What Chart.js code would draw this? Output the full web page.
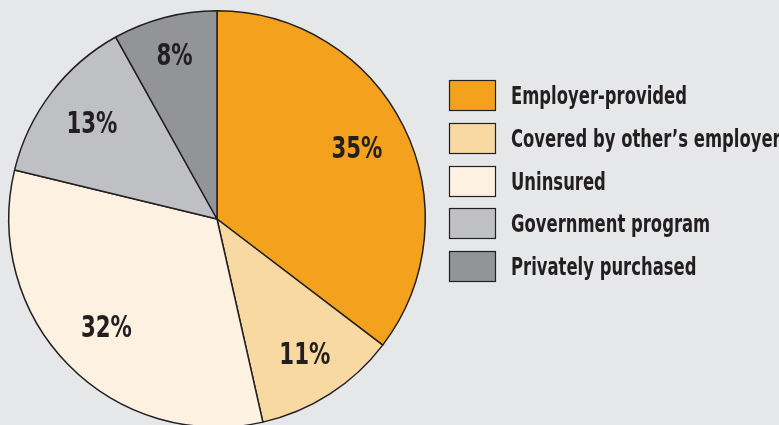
<!DOCTYPE html>
<html>
<head>
<meta charset="utf-8">
<script src="https://cdn.jsdelivr.net/npm/chart.js@4/dist/chart.umd.min.js"></script>
<style>
  html, body { margin: 0; padding: 0; background: #e6e7e9; overflow: hidden; }
  #wrap { width: 779px; height: 440px; }
</style>
</head>
<body>
<div id="wrap"><canvas id="pie" width="779" height="440"></canvas></div>
<script>
// Health coverage sources (percent)
const categories = [
  "Employer-provided",
  "Covered by other\u2019s employer",
  "Uninsured",
  "Government program",
  "Privately purchased",
];
const shares = [35, 11, 32, 13, 8];
const sliceColors = ["#f4a21e", "#f9d9a2", "#fdf2e2", "#bfc0c3", "#929497"];

// How far out along each slice the percent label sits (fraction of radius)
const LABEL_RADIUS = [0.75, 0.78, 0.745, 0.755, 0.81];

const FONT = "'DejaVu Sans Condensed', 'Liberation Sans Narrow', sans-serif";
const INK = "#231f20";

// Squeeze text horizontally so it reads like a narrow display face
function squeezedText(ctx, text, x, y, sx) {
  ctx.save();
  ctx.translate(x, y);
  ctx.scale(sx, 1);
  ctx.fillText(text, 0, 0);
  ctx.restore();
}

// Percent labels inside the slices
const sliceLabels = {
  id: "sliceLabels",
  afterDatasetsDraw(chart) {
    const ctx = chart.ctx;
    const meta = chart.getDatasetMeta(0);
    const values = chart.data.datasets[0].data;
    ctx.save();
    ctx.fillStyle = INK;
    ctx.font = "bold 30px " + FONT;
    ctx.textAlign = "center";
    ctx.textBaseline = "middle";
    const sx = 51 / ctx.measureText("35%").width;
    meta.data.forEach((arc, i) => {
      const p = arc.getProps(["x", "y", "startAngle", "endAngle", "outerRadius"], true);
      const mid = (p.startAngle + p.endAngle) / 2;
      const r = p.outerRadius * LABEL_RADIUS[i];
      squeezedText(ctx, values[i] + "%", p.x + Math.cos(mid) * r, p.y + Math.sin(mid) * r + 1, sx);
    });
    ctx.restore();
  },
};

// Legend drawn to the right of the pie
const sideLegend = {
  id: "sideLegend",
  afterDraw(chart) {
    const ctx = chart.ctx;
    const colors = chart.data.datasets[0].backgroundColor;
    const left = 449, top = 80, step = 42.75;
    ctx.save();
    ctx.font = "bold 25px " + FONT;
    ctx.textBaseline = "middle";
    const sx = 176 / ctx.measureText(chart.data.labels[0]).width;
    chart.data.labels.forEach((label, i) => {
      const y = Math.round(top + i * step);
      ctx.fillStyle = colors[i];
      ctx.fillRect(left, y, 47, 31);
      ctx.strokeStyle = INK;
      ctx.lineWidth = 1.2;
      ctx.strokeRect(left + 0.5, y + 0.5, 46, 30);
      ctx.fillStyle = INK;
      squeezedText(ctx, label, 511, y + 17, sx);
    });
    ctx.restore();
  },
};

new Chart(document.getElementById("pie"), {
  type: "pie",
  data: {
    labels: categories,
    datasets: [
      {
        data: shares,
        backgroundColor: sliceColors,
        borderColor: INK,
        borderWidth: 1.5,
      },
    ],
  },
  options: {
    responsive: false,
    animation: false,
    layout: { padding: { top: 10, left: 8, right: 353, bottom: 12 } },
    plugins: {
      legend: { display: false },
      tooltip: { enabled: false },
    },
  },
  plugins: [sliceLabels, sideLegend],
});
</script>
</body>
</html>
